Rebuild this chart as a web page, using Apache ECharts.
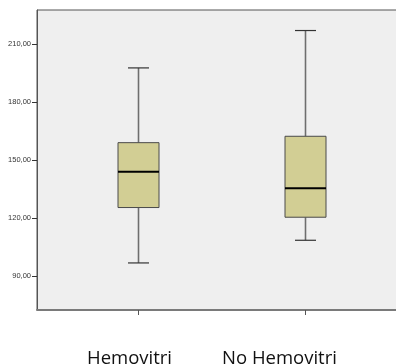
<!DOCTYPE html>
<html>
<head>
<meta charset="utf-8">
<script src="https://cdn.jsdelivr.net/npm/echarts@6/dist/echarts.min.js"></script>
<style>
  html, body { margin: 0; padding: 0; background: #ffffff; }
  #chart { width: 396px; height: 364px; }
</style>
</head>
<body>
<div id="chart"></div>
<script>
// Groups and five-number summaries: [min, Q1, median, Q3, max]
var categories = ['Hemovitri', 'No Hemovitri'];
var lowWhisker = [96.9, 108.6];
var q1 = [125.5, 120.5];
var median = [144.0, 135.5];
var q3 = [159.0, 162.3];
var highWhisker = [197.6, 216.9];
var yTicks = [90, 120, 150, 180, 210];

var boxData = categories.map(function (c, i) {
  return [i, lowWhisker[i], q1[i], median[i], q3[i], highWhisker[i]];
});

var Y_MIN = 72.6, Y_MAX = 227.5;
var BOX_W = 41, CAP_W = 21;

function renderBox(params, api) {
  var x = api.value(0);
  var pLow = api.coord([x, api.value(1)]);
  var pQ1 = api.coord([x, api.value(2)]);
  var pMed = api.coord([x, api.value(3)]);
  var pQ3 = api.coord([x, api.value(4)]);
  var pHigh = api.coord([x, api.value(5)]);
  var cx = Math.round(pMed[0]) + 0.5;
  var hw = BOX_W / 2, cw = CAP_W / 2;
  return {
    type: 'group',
    children: [
      { type: 'line', shape: { x1: cx, y1: pHigh[1], x2: cx, y2: pQ3[1] },
        style: { stroke: '#6e6e6e', lineWidth: 1.6 } },
      { type: 'line', shape: { x1: cx, y1: pQ1[1], x2: cx, y2: pLow[1] },
        style: { stroke: '#6e6e6e', lineWidth: 1.6 } },
      { type: 'line', shape: { x1: cx - cw, y1: pHigh[1], x2: cx + cw, y2: pHigh[1] },
        style: { stroke: '#333333', lineWidth: 1.2 } },
      { type: 'line', shape: { x1: cx - cw, y1: pLow[1], x2: cx + cw, y2: pLow[1] },
        style: { stroke: '#333333', lineWidth: 1.2 } },
      { type: 'rect', shape: { x: cx - hw, y: pQ3[1], width: BOX_W, height: pQ1[1] - pQ3[1] },
        style: { fill: '#d2ce94', stroke: '#4a4a4a', lineWidth: 1 } },
      { type: 'line', shape: { x1: cx - hw, y1: pMed[1], x2: cx + hw, y2: pMed[1] },
        style: { stroke: '#000000', lineWidth: 2 } }
    ]
  };
}

var chart = echarts.init(document.getElementById('chart'), null, { renderer: 'canvas' });
chart.setOption({
  animation: false,
  backgroundColor: '#ffffff',
  grid: [
    { left: 37, width: 380, top: 10, bottom: 54, show: true, backgroundColor: '#efefef',
      borderColor: '#555555', borderWidth: 1, containLabel: false, outerBoundsMode: 'none' },
    { left: 54.5, width: 334, top: 10, bottom: 54, containLabel: false, outerBoundsMode: 'none' }
  ],
  xAxis: [
    { gridIndex: 0, type: 'value', min: 0, max: 1,
      axisLine: { show: true, lineStyle: { color: '#7a7a7a', width: 2 } },
      axisTick: { show: false }, axisLabel: { show: false }, splitLine: { show: false } },
    { gridIndex: 1, type: 'category', data: categories, boundaryGap: true,
      axisLine: { show: false },
      axisTick: { show: true, alignWithLabel: true, length: 5, inside: false,
        lineStyle: { color: '#555555', width: 1 } },
      axisLabel: {
        margin: 39,
        formatter: function (v, i) { return i === 0 ? '{a|' + v + '}' : '{b|' + v + '}'; },
        rich: {
          a: { fontFamily: 'Open Sans', fontSize: 18.5, color: '#111111', padding: [0, 17, 0, 0] },
          b: { fontFamily: 'Open Sans', fontSize: 18.5, color: '#111111', padding: [0, 51, 0, 0] }
        }
      },
      splitLine: { show: false } }
  ],
  yAxis: [
    { gridIndex: 0, type: 'value', min: Y_MIN, max: Y_MAX,
      axisLine: { show: true, lineStyle: { color: '#555555', width: 1 } },
      axisTick: { show: true, length: 5, customValues: yTicks, lineStyle: { color: '#333333' } },
      axisLabel: { customValues: yTicks, margin: 6, fontFamily: 'Liberation Sans', fontSize: 7.5,
        color: '#333333', formatter: function (v) { return v.toFixed(2).replace('.', ','); } },
      splitLine: { show: false } },
    { gridIndex: 1, type: 'value', min: Y_MIN, max: Y_MAX, show: false }
  ],
  series: [
    { type: 'custom', xAxisIndex: 1, yAxisIndex: 1, renderItem: renderBox,
      encode: { x: 0, y: [1, 2, 3, 4, 5] }, data: boxData, clip: false }
  ]
});
</script>
</body>
</html>
